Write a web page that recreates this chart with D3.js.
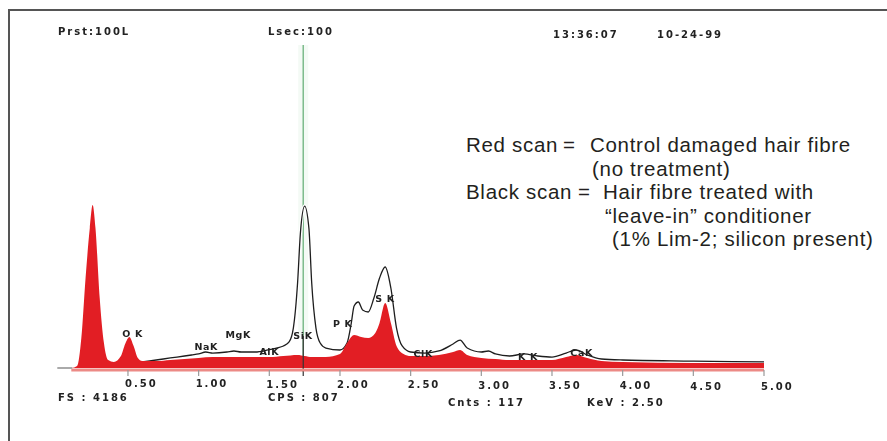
<!DOCTYPE html>
<html>
<head>
<meta charset="utf-8">
<script src="https://cdn.jsdelivr.net/npm/d3@7/dist/d3.min.js"></script>
<style>
body{margin:0;background:#fff;}
svg{display:block;}
</style>
</head>
<body>
<div id="plot"></div>
<script>
//Set Height and Width Vars;
const w=887;
const h=441;

//Red scan (control) - energy in keV and counts;
const redKeV=[0.10,0.14,0.17,0.20,0.23,0.25,0.27,0.30,0.33,0.36,0.40,0.45,0.48,0.51,0.54,0.57,0.60,0.70,0.80,0.90,1.00,1.10,1.20,1.30,1.40,1.50,1.60,1.70,1.75,1.80,1.90,2.00,2.05,2.10,2.15,2.20,2.25,2.28,2.32,2.36,2.40,2.45,2.50,2.60,2.70,2.80,2.85,2.90,3.00,3.10,3.20,3.30,3.40,3.50,3.60,3.67,3.75,3.85,4.00,4.50,5.00];
const redCounts=[0,26,383,1148,1786,2080,1786,893,319,102,77,153,306,396,281,128,89,89,102,115,128,140,140,140,140,140,153,166,153,140,140,179,319,421,396,383,447,574,829,574,281,179,153,153,166,204,230,166,128,115,102,102,102,102,140,166,128,89,77,64,64];

//Black scan (leave-in conditioner) - energy in keV and counts;
const blackKeV=[0.55,0.60,0.70,0.80,0.90,0.95,1.00,1.05,1.10,1.20,1.25,1.30,1.40,1.49,1.55,1.60,1.64,1.67,1.70,1.72,1.75,1.78,1.80,1.83,1.86,1.90,2.00,2.05,2.08,2.10,2.13,2.16,2.20,2.24,2.28,2.32,2.36,2.40,2.44,2.50,2.60,2.70,2.80,2.85,2.90,3.00,3.05,3.10,3.20,3.30,3.40,3.50,3.60,3.67,3.75,3.85,4.00,4.50,5.00];
const blackCounts=[64,77,102,128,153,166,179,204,191,204,217,204,204,230,255,281,332,510,1085,1723,2067,1786,1085,510,319,255,230,319,574,791,842,740,715,893,1148,1289,1021,510,281,204,191,217,306,357,255,204,217,179,153,179,153,140,191,230,166,115,102,89,77];

//Axis ticks;
const tickKeV=[0.5,1.0,1.5,2.0,2.5,3.0,3.5,4.0,4.5,5.0];
const tickLabels=["0.50","1.00","1.50","2.00","2.50","3.00","3.50","4.00","4.50","5.00"];

//Peak labels (label start keV, label baseline counts);
const peakNames=["O K","NaK","MgK","AlK","SiK","P K","S K","ClK","K K","CaK"];
const peakKeV=[0.46,0.97,1.19,1.43,1.67,1.95,2.25,2.52,3.26,3.63];
const peakCounts=[396,230,383,166,370,523,842,140,102,153];

//Instrument header / footer;
const headerText=["Prst:100L","Lsec:100","13:36:07","10-24-99"];
const footerText=["FS : 4186","CPS : 807","Cnts : 117","KeV : 2.50"];
const cursorKeV=1.74;
const fullScale=4186;

//Legend lines;
const legendKeys=["Red scan","Black scan"];
const legendLines=[
	["Control damaged hair fibre","(no treatment)"],
	["Hair fibre treated with","\u201cleave-in\u201d conditioner","(1% Lim-2; silicon present)"]
];

//Initialize SVG;
const svg = d3.select("#plot")
			  .append("svg")
				.attr("width",w)
				.attr("height",h);

//Soft filter for the scanned instrument print;
svg.append("defs").append("filter")
	.attr("id","soft")
  .append("feGaussianBlur")
	.attr("stdDeviation",0.4);

//Outer frame;
svg.append("rect")
	.attr("x",9).attr("y",10)
	.attr("width",w+20).attr("height",h+20)
	.attr("fill","none")
	.attr("stroke","#555")
	.attr("stroke-width",2);

//Scales;
const x = d3.scaleLinear().domain([0,5]).range([57.3,764]);
const y = d3.scaleLinear().domain([0,fullScale]).range([368,40]);

const red = redKeV.map((k,i)=>({k:k,c:redCounts[i]}));
const black = blackKeV.map((k,i)=>({k:k,c:blackCounts[i]}));

//Cursor line;
svg.append("rect")
	.attr("x",x(cursorKeV)-5).attr("y",45)
	.attr("width",10).attr("height",290)
	.attr("fill","#f4faf5");
svg.append("line")
	.attr("x1",x(cursorKeV)).attr("x2",x(cursorKeV))
	.attr("y1",45).attr("y2",372)
	.attr("stroke","#7dbb8c")
	.attr("stroke-width",1.5);

//Black scan line;
const line = d3.line()
	.x(d=>x(d.k))
	.y(d=>y(d.c))
	.curve(d3.curveMonotoneX);

svg.append("path")
	.datum(black)
	.attr("d",line)
	.attr("fill","none")
	.attr("stroke","#fff")
	.attr("stroke-width",3.5);
svg.append("path")
	.datum(black)
	.attr("d",line)
	.attr("fill","none")
	.attr("stroke","#1e1e1e")
	.attr("stroke-width",1.3);

//Red scan area;
const area = d3.area()
	.x(d=>x(d.k))
	.y0(y(0))
	.y1(d=>y(d.c))
	.curve(d3.curveMonotoneX);

svg.append("path")
	.datum(red)
	.attr("d",area)
	.attr("fill","#e21e24");

//Cursor base (black);
svg.append("line")
	.attr("x1",x(cursorKeV)).attr("x2",x(cursorKeV))
	.attr("y1",336).attr("y2",376)
	.attr("stroke","#333")
	.attr("stroke-width",1.2);

//Energy axis;
svg.append("line")
	.attr("x1",x(0)+14).attr("x2",x(5))
	.attr("y1",370).attr("y2",370)
	.attr("stroke","#ec8a86")
	.attr("stroke-width",3);
svg.append("line")
	.attr("x1",x(0)).attr("x2",x(0)+15)
	.attr("y1",368).attr("y2",368)
	.attr("stroke","#aaa")
	.attr("stroke-width",2);

svg.selectAll(".tick")
	.data(tickKeV)
	.enter()
  .append("line")
	.attr("class","tick")
	.attr("x1",d=>x(d)).attr("x2",d=>x(d))
	.attr("y1",370).attr("y2",376)
	.attr("stroke","#999")
	.attr("stroke-width",1.2);

//Instrument text style;
function printText(sel){
	sel.attr("font-family","'DejaVu Sans',sans-serif")
	   .attr("font-weight","bold")
	   .attr("font-size",10)
	   .attr("letter-spacing",2)
	   .attr("fill","#222")
	   .attr("filter","url(#soft)");
}

svg.selectAll(".tickLabel")
	.data(tickKeV)
	.enter()
  .append("text")
	.attr("class","tickLabel")
	.attr("x",d=>x(d)-3)
	.attr("y",(d,i)=>387+i*0.35)
	.text((d,i)=>tickLabels[i])
	.call(printText);

//Header;
const headerX=[58,268,553,657];
svg.selectAll(".header")
	.data(headerText)
	.enter()
  .append("text")
	.attr("class","header")
	.attr("x",(d,i)=>headerX[i])
	.attr("y",(d,i)=>i<2?35:38)
	.text(d=>d)
	.call(printText);

//Footer;
const footerX=[58,268,448,587];
svg.selectAll(".footer")
	.data(footerText)
	.enter()
  .append("text")
	.attr("class","footer")
	.attr("x",(d,i)=>footerX[i])
	.attr("y",(d,i)=>i<2?401:406)
	.text(d=>d)
	.call(printText);

//Peak labels;
svg.selectAll(".peak")
	.data(peakNames)
	.enter()
  .append("text")
	.attr("class","peak")
	.attr("x",(d,i)=>x(peakKeV[i]))
	.attr("y",(d,i)=>y(peakCounts[i]))
	.text(d=>d)
	.call(printText)
	.attr("font-size",9.5)
	.attr("letter-spacing",0.6);

//Legend (one text block, one tspan per piece);
const legend = svg.append("text")
	.attr("font-family","'Liberation Sans',Arial,sans-serif")
	.attr("font-size",20.5)
	.attr("letter-spacing",0.7)
	.attr("fill","#231f20");

const lineH=23.5;
const keyX=466, eqX=[563,578];
const textX=[[590,592],[603,605,612]];
const baseY=[152,152+lineH*2];

legendKeys.forEach(function(key,j){
	legend.append("tspan")
		.attr("x",keyX).attr("y",baseY[j])
		.text(key);
	legend.append("tspan")
		.attr("x",eqX[j]).attr("y",baseY[j])
		.text("=");
	legendLines[j].forEach(function(t,i){
		legend.append("tspan")
			.attr("x",textX[j][i])
			.attr("y",baseY[j]+i*lineH)
			.text(t);
	});
});
</script>
</body>
</html>
